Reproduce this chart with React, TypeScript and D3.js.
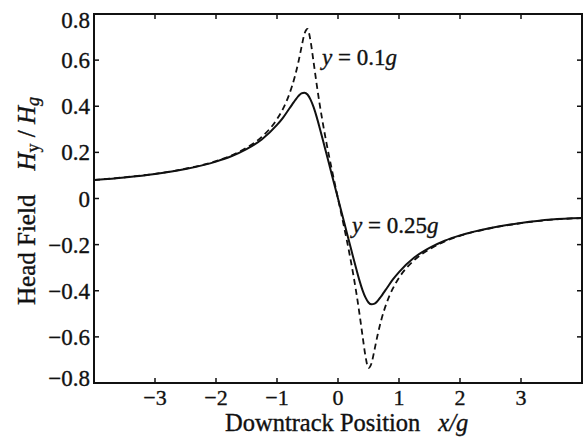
import React from "react";
import * as d3 from "d3";

const positions = [-4, -3.5, -3, -2.5, -2, -1.75, -1.5, -1.25, -1, -0.9, -0.8, -0.75, -0.7, -0.65, -0.6, -0.55, -0.5, -0.45, -0.4, -0.35, -0.3, -0.25, -0.2, -0.1, 0, 0.1, 0.2, 0.25, 0.3, 0.35, 0.4, 0.45, 0.5, 0.55, 0.6, 0.65, 0.7, 0.75, 0.8, 0.9, 1, 1.25, 1.5, 1.75, 2, 2.5, 3, 3.5, 4];

// y = 0.25g (solid)
const fieldY025 = [0.080, 0.091, 0.106, 0.128, 0.160, 0.183, 0.214, 0.256, 0.319, 0.351, 0.389, 0.408, 0.427, 0.444, 0.456, 0.459, 0.451, 0.429, 0.396, 0.354, 0.306, 0.256, 0.205, 0.102, 0, -0.102, -0.205, -0.256, -0.306, -0.354, -0.396, -0.429, -0.451, -0.459, -0.456, -0.444, -0.427, -0.408, -0.389, -0.351, -0.319, -0.256, -0.214, -0.183, -0.160, -0.128, -0.106, -0.091, -0.085];

// y = 0.1g (dashed)
const fieldY01 = [0.080, 0.092, 0.107, 0.129, 0.162, 0.186, 0.220, 0.267, 0.344, 0.390, 0.451, 0.490, 0.536, 0.591, 0.654, 0.714, 0.735, 0.683, 0.591, 0.496, 0.408, 0.329, 0.256, 0.124, 0, -0.124, -0.256, -0.329, -0.408, -0.496, -0.591, -0.683, -0.735, -0.714, -0.654, -0.591, -0.536, -0.490, -0.451, -0.390, -0.344, -0.267, -0.220, -0.186, -0.162, -0.129, -0.107, -0.092, -0.085];

const xTicks = [-3, -2, -1, 0, 1, 2, 3];
const yTicks = [-0.8, -0.6, -0.4, -0.2, 0, 0.2, 0.4, 0.6, 0.8];

const W = 584;
const H = 443;
const L = 94, R = 582, T = 14, B = 383;
const FONT = "Liberation Serif, Times New Roman, serif";
const INK = "#111";

function fmtY(v: number) {
  if (v === 0) return "0";
  const s = Math.abs(v).toFixed(1);
  return (v < 0 ? "\u2212" : "") + s;
}

const textStyle = { fontFamily: FONT, stroke: INK, strokeWidth: 0.35 } as React.CSSProperties;

export default function App() {
  const x = d3.scaleLinear().domain([-4, 4]).range([L, R]);
  const y = d3.scaleLinear().domain([-0.8, 0.8]).range([B, T]);

  const line = d3
    .line<number>()
    .x((_, i) => x(positions[i]))
    .y((d) => y(d))
    .curve(d3.curveMonotoneX);

  const tickLen = 5;

  return (
    <svg
      width={W}
      height={H}
      style={{ position: "absolute", left: 0, top: 0, background: "#fff" }}
    >
      <rect x={0} y={0} width={W} height={H} fill="#fff" />
      {/* curves */}
      <path d={line(fieldY025) || ""} fill="none" stroke={INK} strokeWidth={2} />
      <path d={line(fieldY01) || ""} fill="none" stroke={INK} strokeWidth={1.8} strokeDasharray="6,4" />

      {/* frame */}
      <rect x={L} y={T} width={R - L} height={B - T} fill="none" stroke={INK} strokeWidth={2} />

      {/* x ticks */}
      {xTicks.map((t) => (
        <g key={"xt" + t}>
          <line x1={x(t)} x2={x(t)} y1={B} y2={B - tickLen} stroke={INK} strokeWidth={1.5} />
          <line x1={x(t)} x2={x(t)} y1={T} y2={T + tickLen} stroke={INK} strokeWidth={1.5} />
          <text x={x(t)} y={405} textAnchor="middle" fontSize={22} fill={INK} style={textStyle}>
            {t < 0 ? "\u2212" + Math.abs(t) : String(t)}
          </text>
        </g>
      ))}

      {/* y ticks */}
      {yTicks.map((t, i) => {
        const nudge = i === 0 ? -5 : i === yTicks.length - 1 ? 6 : 0;
        return (
          <g key={"yt" + t}>
            <line x1={L} x2={L + tickLen} y1={y(t)} y2={y(t)} stroke={INK} strokeWidth={1.5} />
            <line x1={R} x2={R - tickLen} y1={y(t)} y2={y(t)} stroke={INK} strokeWidth={1.5} />
            <text x={90} y={y(t) + nudge} dy="0.35em" textAnchor="end" fontSize={23} fill={INK} style={textStyle}>
              {fmtY(t)}
            </text>
          </g>
        );
      })}

      {/* annotations */}
      <text x={322} y={65} fontSize={23} fill={INK} style={textStyle}>
        <tspan fontStyle="italic">y</tspan>
        <tspan> = 0.1</tspan>
        <tspan fontStyle="italic">g</tspan>
      </text>
      <text x={352} y={233} fontSize={23} fill={INK} style={textStyle}>
        <tspan fontStyle="italic">y</tspan>
        <tspan> = 0.25</tspan>
        <tspan fontStyle="italic">g</tspan>
      </text>

      {/* x label */}
      <text x={225} y={431} fontSize={24.5} fill={INK} style={textStyle}>
        <tspan>Downtrack Position</tspan>
        <tspan dx={18} fontStyle="italic">x/g</tspan>
      </text>

      {/* y label */}
      <text transform={`translate(35,305) rotate(-90)`} fontSize={25} fill={INK} style={textStyle}>
        <tspan>Head Field</tspan>
        <tspan dx={24} fontStyle="italic">H</tspan>
        <tspan dy={4} fontSize={18}>y</tspan>
        <tspan dy={-4}> / </tspan>
        <tspan fontStyle="italic">H</tspan>
        <tspan dy={4} fontSize={18} fontStyle="italic">g</tspan>
      </text>
    </svg>
  );
}
